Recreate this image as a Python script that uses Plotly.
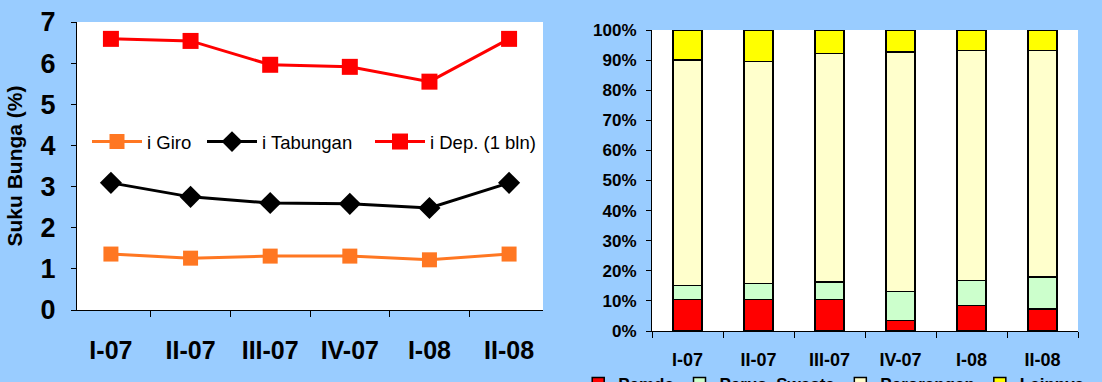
import plotly.graph_objects as go

# Quarterly periods shared by both panels
periods = ["I-07", "II-07", "III-07", "IV-07", "I-08", "II-08"]

# Interest rates (%) by product
rate_giro = [1.36, 1.26, 1.31, 1.31, 1.22, 1.36]
rate_tabungan = [3.09, 2.75, 2.60, 2.58, 2.48, 3.09]
rate_deposito = [6.59, 6.54, 5.96, 5.91, 5.55, 6.59]

# Deposit composition by owner (% of total)
share_pemda = [10.5, 10.5, 10.5, 3.5, 8.5, 7.3]
share_swasta = [4.7, 5.3, 5.8, 9.6, 8.3, 10.6]
share_perorangan = [74.8, 73.7, 75.9, 79.6, 76.4, 75.3]
share_lainnya = [10.0, 10.5, 7.8, 7.3, 6.8, 6.8]

W, H = 1102, 382
BG = "#99CCFF"
FONT = "Liberation Sans, Arial, sans-serif"


def px_x(v):
    return v / W


def px_y(v):
    return 1 - v / H


fig = go.Figure()

# each rate series gets its own legend entry box so the spacing can be set
line_series = [
    ("i Giro", rate_giro, "#FF7722", "square", 15, "legend", 87),
    ("i Tabungan", rate_tabungan, "#000000", "diamond", 17, "legend3", 202),
    ("i Dep. (1 bln)", rate_deposito, "#FF0000", "square", 16, "legend4", 370),
]
legend_boxes = {}
for name, vals, color, symbol, size, leg, lx in line_series:
    fig.add_trace(go.Scatter(
        x=periods, y=vals, name=name, mode="lines+markers",
        line=dict(color=color, width=3),
        marker=dict(symbol=symbol, size=size, color=color),
        xaxis="x", yaxis="y", legend=leg,
    ))
    legend_boxes[leg] = dict(
        orientation="h", x=px_x(lx), y=px_y(142), xanchor="left", yanchor="middle",
        bgcolor="rgba(0,0,0,0)", font=dict(size=18.5, family=FONT),
        itemwidth=50,
    )

bar_series = [
    ("Pemda", share_pemda, "#FF0000"),
    ("Perus. Swasta", share_swasta, "#CCFFCC"),
    ("Perorangan", share_perorangan, "#FFFFCC"),
    ("Lainnya", share_lainnya, "#FFFF00"),
]
for name, vals, color in bar_series:
    fig.add_trace(go.Bar(
        x=periods, y=vals, name=name,
        marker=dict(color=color, line=dict(color="#000000", width=1.5)),
        width=0.41, xaxis="x2", yaxis="y2", legend="legend2",
    ))

fig.update_layout(
    width=W, height=H,
    margin=dict(l=0, r=0, t=0, b=0, autoexpand=False),
    paper_bgcolor=BG,
    plot_bgcolor="#FFFFFF",
    font=dict(family=FONT, color="#000000"),
    barmode="stack",
    showlegend=True,
    xaxis=dict(
        domain=[px_x(77), px_x(543)], anchor="y",
        type="category", tickson="boundaries", ticks="outside", ticklen=6,
        tickcolor="#000000", showline=True, linecolor="#000000", linewidth=1,
        showgrid=False, zeroline=False, automargin=False,
        tickfont=dict(size=25, family=FONT, weight="bold"),
        ticklabelstandoff=18,
    ),
    yaxis=dict(
        domain=[px_y(310), px_y(22)], anchor="x",
        range=[0, 7], dtick=1, ticks="outside", ticklen=5, tickcolor="#000000",
        showline=True, linecolor="#000000", linewidth=1,
        showgrid=False, zeroline=False, automargin=False,
        tickfont=dict(size=27, family=FONT, weight="bold"),
        ticklabelstandoff=10,
        title=dict(text="Suku Bunga (%)", standoff=12,
                   font=dict(size=21, family=FONT, weight="bold")),
    ),
    xaxis2=dict(
        domain=[px_x(652), px_x(1078)], anchor="y2",
        type="category", tickson="boundaries", ticks="outside", ticklen=6,
        tickcolor="#000000", showline=True, linecolor="#000000", linewidth=1,
        showgrid=False, zeroline=False, automargin=False,
        tickfont=dict(size=18, family=FONT, weight="bold"),
        ticklabelstandoff=12,
    ),
    yaxis2=dict(
        domain=[px_y(331), px_y(30)], anchor="x2",
        range=[0, 100], dtick=10, ticksuffix="%",
        ticks="outside", ticklen=5, tickcolor="#000000",
        showline=True, linecolor="#000000", linewidth=1,
        showgrid=False, zeroline=False, automargin=False,
        tickfont=dict(size=17, family=FONT, weight="bold"),
        ticklabelstandoff=6,
    ),
    legend=legend_boxes["legend"],
    legend3=legend_boxes["legend3"],
    legend4=legend_boxes["legend4"],
    legend2=dict(
        orientation="h", xref="container", yref="container",
        x=0.757, y=0.042, xanchor="center", yanchor="top",
        bgcolor="rgba(0,0,0,0)", font=dict(size=17, family=FONT, weight="bold"),
        traceorder="normal",
    ),
)

fig.write_html("out.html")
